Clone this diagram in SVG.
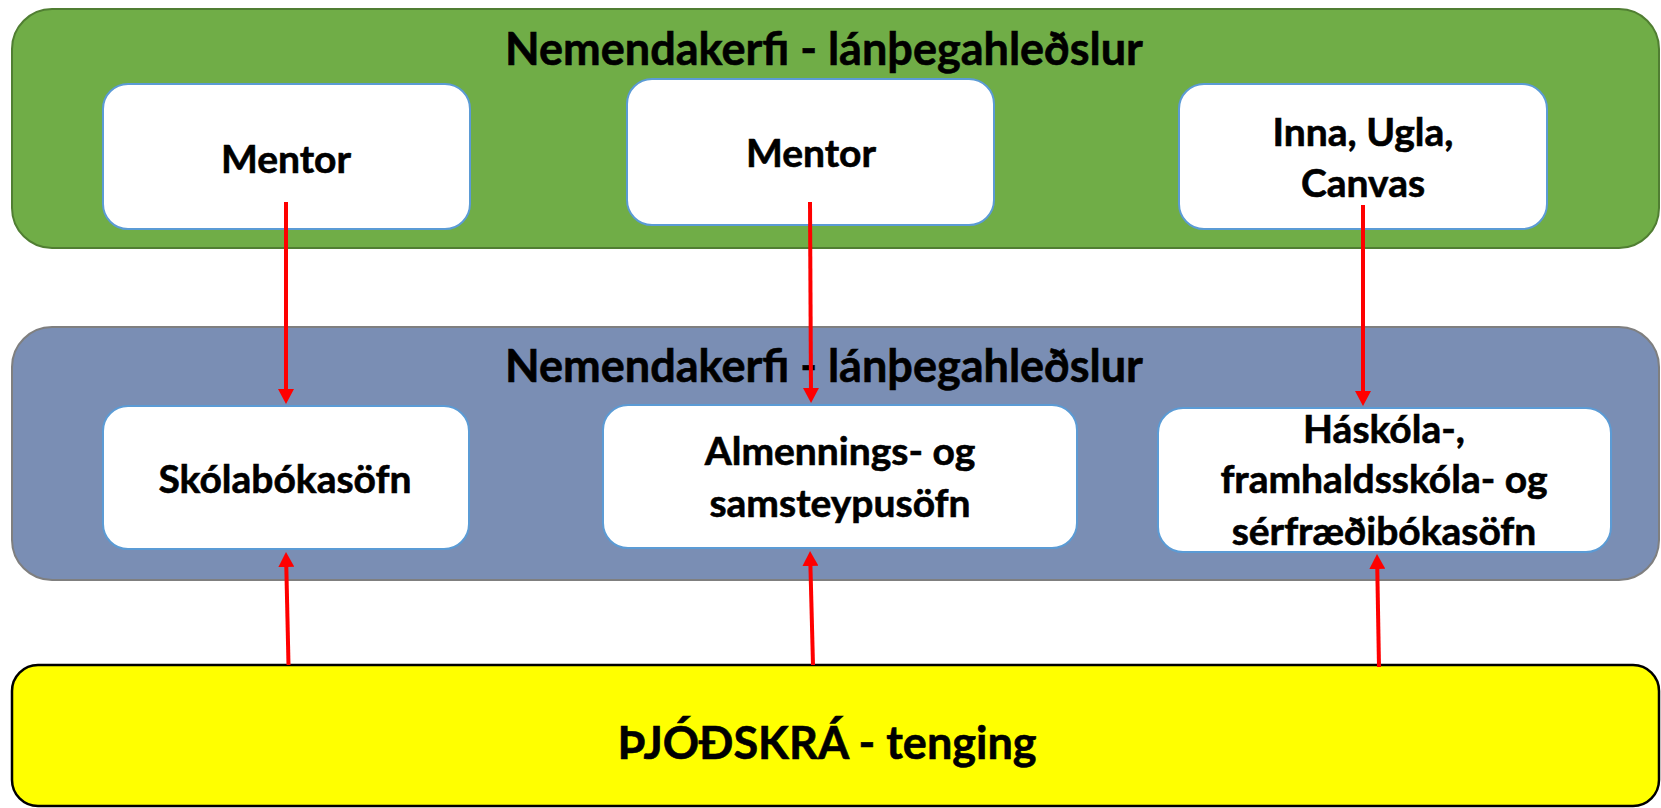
<svg xmlns="http://www.w3.org/2000/svg" width="1661" height="808" viewBox="0 0 1661 808">
<style>
text { font-family: Lato, "Open Sans", "Liberation Sans", sans-serif; font-weight: bold; fill: #000; stroke: #000; stroke-width: 0.6; text-anchor: middle; }
.title { font-size: 45px; }
.lbl { font-size: 39px; }
.box { fill: #fff; stroke: #5B9BD5; stroke-width: 2; }
.conn { stroke: #FF0000; stroke-width: 4; fill: none; marker-end: url(#ah); }
</style>
<defs>
<marker id="ah" markerUnits="userSpaceOnUse" markerWidth="16" markerHeight="16" refX="5" refY="8" orient="auto">
<path d="M0,0 L15,8 L0,16 z" fill="#FF0000"/>
</marker>
</defs>
<rect width="1661" height="808" fill="#fff"/>
<g id="panel-top">
<rect x="12" y="9" width="1647" height="239" rx="40" fill="#70AD47" stroke="#507E32" stroke-width="2"/>
<text class="title" x="824" y="65">Nemendakerfi - lánþegahleðslur</text>
</g>
<g id="panel-mid">
<rect x="12" y="327" width="1647" height="253" rx="40" fill="#7A8EB4" stroke="#7F7F7F" stroke-width="2"/>
<text class="title" x="824" y="382">Nemendakerfi - lánþegahleðslur</text>
</g>
<g id="panel-bottom">
<rect x="12" y="665" width="1647" height="141" rx="26" fill="#FFFF00" stroke="#000" stroke-width="2.5"/>
<text class="title" x="827" y="759">ÞJÓÐSKRÁ - tenging</text>
</g>
<g id="mentor1">
<rect class="box" x="103" y="84" width="367" height="145" rx="25"/>
<text class="lbl" x="286" y="173">Mentor</text>
</g>
<g id="mentor2">
<rect class="box" x="627" y="79" width="367" height="146" rx="25"/>
<text class="lbl" x="811" y="167">Mentor</text>
</g>
<g id="inna">
<rect class="box" x="1179" y="84" width="368" height="145" rx="25"/>
<text class="lbl" x="1363" y="146">Inna, Ugla,</text>
<text class="lbl" x="1363" y="197">Canvas</text>
</g>
<g id="skola">
<rect class="box" x="103" y="406" width="366" height="143" rx="25"/>
<text class="lbl" x="285" y="493">Skólabókasöfn</text>
</g>
<g id="almennings">
<rect class="box" x="603" y="405" width="474" height="143" rx="25"/>
<text class="lbl" x="840" y="465">Almennings- og</text>
<text class="lbl" x="840" y="517">samsteypusöfn</text>
</g>
<g id="haskola">
<rect class="box" x="1158" y="408" width="453" height="144" rx="25"/>
<text class="lbl" x="1384" y="443">Háskóla-,</text>
<text class="lbl" x="1384" y="493">framhaldsskóla- og</text>
<text class="lbl" x="1384" y="545">sérfræðibókasöfn</text>
</g>
<g id="connectors">
<line class="conn" x1="286" y1="202" x2="286" y2="394"/>
<line class="conn" x1="810" y1="202" x2="811" y2="393"/>
<line class="conn" x1="1363" y1="205" x2="1363" y2="396"/>
<line class="conn" x1="288.5" y1="665" x2="286.2" y2="562"/>
<line class="conn" x1="813" y1="665" x2="810.3" y2="561"/>
<line class="conn" x1="1379" y1="667" x2="1377.2" y2="564"/>
</g>
</svg>
